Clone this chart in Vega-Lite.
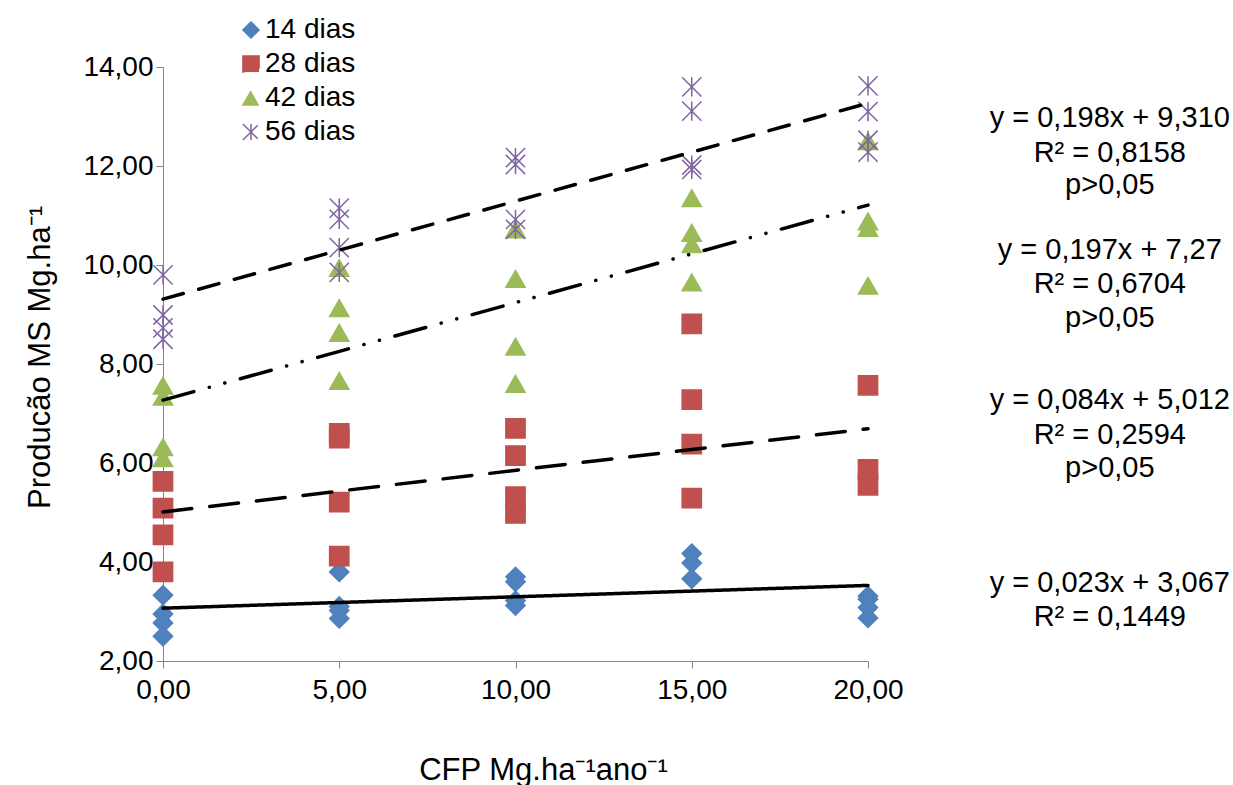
{
  "$schema": "https://vega.github.io/schema/vega-lite/v6.json",
  "autosize": {"type": "none"},
  "padding": {"left": 163, "top": 67, "right": 365, "bottom": 124},
  "width": 705,
  "height": 594,
  "background": "white",
  "config": {
    "view": {"stroke": null},
    "font": "Liberation Sans",
    "axis": {
      "grid": false,
      "domainColor": "#868686",
      "tickColor": "#868686",
      "domainWidth": 1,
      "tickWidth": 1,
      "labelColor": "black",
      "labelFont": "Liberation Sans",
      "labelFontSize": 28,
      "labelFlush": false,
      "titleFont": "Liberation Sans",
      "titleFontSize": 31,
      "titleFontWeight": "normal",
      "titleColor": "black"
    }
  },
  "datasets": {
    "pontos": [
      {"serie": "14 dias", "cfp": 0, "ms": 3.33},
      {"serie": "14 dias", "cfp": 0, "ms": 2.95},
      {"serie": "14 dias", "cfp": 0, "ms": 2.77},
      {"serie": "14 dias", "cfp": 0, "ms": 2.50},
      {"serie": "14 dias", "cfp": 5, "ms": 3.80},
      {"serie": "14 dias", "cfp": 5, "ms": 3.10},
      {"serie": "14 dias", "cfp": 5, "ms": 3.02},
      {"serie": "14 dias", "cfp": 5, "ms": 2.86},
      {"serie": "14 dias", "cfp": 10, "ms": 3.70},
      {"serie": "14 dias", "cfp": 10, "ms": 3.60},
      {"serie": "14 dias", "cfp": 10, "ms": 3.22},
      {"serie": "14 dias", "cfp": 10, "ms": 3.12},
      {"serie": "14 dias", "cfp": 15, "ms": 4.17},
      {"serie": "14 dias", "cfp": 15, "ms": 3.98},
      {"serie": "14 dias", "cfp": 15, "ms": 3.66},
      {"serie": "14 dias", "cfp": 20, "ms": 3.31},
      {"serie": "14 dias", "cfp": 20, "ms": 3.25},
      {"serie": "14 dias", "cfp": 20, "ms": 3.08},
      {"serie": "14 dias", "cfp": 20, "ms": 2.87},
      {"serie": "28 dias", "cfp": 0, "ms": 5.63},
      {"serie": "28 dias", "cfp": 0, "ms": 5.09},
      {"serie": "28 dias", "cfp": 0, "ms": 4.55},
      {"serie": "28 dias", "cfp": 0, "ms": 3.80},
      {"serie": "28 dias", "cfp": 5, "ms": 6.60},
      {"serie": "28 dias", "cfp": 5, "ms": 6.50},
      {"serie": "28 dias", "cfp": 5, "ms": 5.21},
      {"serie": "28 dias", "cfp": 5, "ms": 4.12},
      {"serie": "28 dias", "cfp": 10, "ms": 6.70},
      {"serie": "28 dias", "cfp": 10, "ms": 6.15},
      {"serie": "28 dias", "cfp": 10, "ms": 5.32},
      {"serie": "28 dias", "cfp": 10, "ms": 4.98},
      {"serie": "28 dias", "cfp": 15, "ms": 8.81},
      {"serie": "28 dias", "cfp": 15, "ms": 7.28},
      {"serie": "28 dias", "cfp": 15, "ms": 6.38},
      {"serie": "28 dias", "cfp": 15, "ms": 5.29},
      {"serie": "28 dias", "cfp": 20, "ms": 7.57},
      {"serie": "28 dias", "cfp": 20, "ms": 5.87},
      {"serie": "28 dias", "cfp": 20, "ms": 5.55},
      {"serie": "42 dias", "cfp": 0, "ms": 7.56},
      {"serie": "42 dias", "cfp": 0, "ms": 7.34},
      {"serie": "42 dias", "cfp": 0, "ms": 6.32},
      {"serie": "42 dias", "cfp": 0, "ms": 6.10},
      {"serie": "42 dias", "cfp": 5, "ms": 9.94},
      {"serie": "42 dias", "cfp": 5, "ms": 9.13},
      {"serie": "42 dias", "cfp": 5, "ms": 8.63},
      {"serie": "42 dias", "cfp": 5, "ms": 7.66},
      {"serie": "42 dias", "cfp": 10, "ms": 10.72},
      {"serie": "42 dias", "cfp": 10, "ms": 9.72},
      {"serie": "42 dias", "cfp": 10, "ms": 8.35},
      {"serie": "42 dias", "cfp": 10, "ms": 7.60},
      {"serie": "42 dias", "cfp": 15, "ms": 11.35},
      {"serie": "42 dias", "cfp": 15, "ms": 10.65},
      {"serie": "42 dias", "cfp": 15, "ms": 10.42},
      {"serie": "42 dias", "cfp": 15, "ms": 9.65},
      {"serie": "42 dias", "cfp": 20, "ms": 12.50},
      {"serie": "42 dias", "cfp": 20, "ms": 10.88},
      {"serie": "42 dias", "cfp": 20, "ms": 10.75},
      {"serie": "42 dias", "cfp": 20, "ms": 9.58},
      {"serie": "56 dias", "cfp": 0, "ms": 9.80},
      {"serie": "56 dias", "cfp": 0, "ms": 8.99},
      {"serie": "56 dias", "cfp": 0, "ms": 8.73},
      {"serie": "56 dias", "cfp": 0, "ms": 8.50},
      {"serie": "56 dias", "cfp": 5, "ms": 11.15},
      {"serie": "56 dias", "cfp": 5, "ms": 10.92},
      {"serie": "56 dias", "cfp": 5, "ms": 10.35},
      {"serie": "56 dias", "cfp": 5, "ms": 9.85},
      {"serie": "56 dias", "cfp": 10, "ms": 12.17},
      {"serie": "56 dias", "cfp": 10, "ms": 12.03},
      {"serie": "56 dias", "cfp": 10, "ms": 10.92},
      {"serie": "56 dias", "cfp": 10, "ms": 10.72},
      {"serie": "56 dias", "cfp": 15, "ms": 13.60},
      {"serie": "56 dias", "cfp": 15, "ms": 13.11},
      {"serie": "56 dias", "cfp": 15, "ms": 12.02},
      {"serie": "56 dias", "cfp": 15, "ms": 11.93},
      {"serie": "56 dias", "cfp": 20, "ms": 13.62},
      {"serie": "56 dias", "cfp": 20, "ms": 13.10},
      {"serie": "56 dias", "cfp": 20, "ms": 12.52},
      {"serie": "56 dias", "cfp": 20, "ms": 12.28}
    ],
    "tendencias": [
      {"serie": "14 dias", "cfp": 0, "ms": 3.067},
      {"serie": "14 dias", "cfp": 20, "ms": 3.527},
      {"serie": "28 dias", "cfp": 0, "ms": 5.012},
      {"serie": "28 dias", "cfp": 20, "ms": 6.692},
      {"serie": "42 dias", "cfp": 0, "ms": 7.27},
      {"serie": "42 dias", "cfp": 20, "ms": 11.21},
      {"serie": "56 dias", "cfp": 0, "ms": 9.31},
      {"serie": "56 dias", "cfp": 20, "ms": 13.27}
    ],
    "anotacoes": [
      {"texto": "y = 0,198x + 9,310", "nivel": 12.97},
      {"texto": "R² = 0,8158", "nivel": 12.27},
      {"texto": "p>0,05", "nivel": 11.61},
      {"texto": "y = 0,197x + 7,27", "nivel": 10.30},
      {"texto": "R² = 0,6704", "nivel": 9.62},
      {"texto": "p>0,05", "nivel": 8.93},
      {"texto": "y = 0,084x + 5,012", "nivel": 7.27},
      {"texto": "R² = 0,2594", "nivel": 6.57},
      {"texto": "p>0,05", "nivel": 5.90},
      {"texto": "y = 0,023x + 3,067", "nivel": 3.58},
      {"texto": "R² = 0,1449", "nivel": 2.89}
    ]
  },
  "layer": [
    {
      "data": {"name": "pontos"},
      "mark": {"type": "point", "filled": true, "opacity": 1, "strokeWidth": 1.5, "clip": false},
      "encoding": {
        "x": {
          "field": "cfp", "type": "quantitative",
          "scale": {"domain": [0, 20], "nice": false, "zero": false},
          "axis": {
            "values": [0, 5, 10, 15, 20],
            "labelExpr": "replace(format(datum.value, '.2f'), '.', ',')",
            "tickSize": 7,
            "labelPadding": 8,
            "title": "CFP Mg.ha⁻¹ano⁻¹",
            "titleX": 380,
            "titleY": 109,
            "titleAlign": "center",
            "titleBaseline": "middle"
          }
        },
        "y": {
          "field": "ms", "type": "quantitative",
          "scale": {"domain": [2, 14], "nice": false, "zero": false},
          "axis": {
            "values": [2, 4, 6, 8, 10, 12, 14],
            "labelExpr": "replace(format(datum.value, '.2f'), '.', ',')",
            "tickSize": 7,
            "labelPadding": 3,
            "title": "Producão MS Mg.ha⁻¹",
            "titleX": -123,
            "titleY": 290,
            "titleAngle": -90,
            "titleAlign": "center",
            "titleBaseline": "middle"
          }
        },
        "fill": {
          "field": "serie", "type": "nominal",
          "scale": {"domain": ["14 dias", "28 dias", "42 dias", "56 dias"], "range": ["#4F81BD", "#C0504D", "#9BBB59", "#8064A2"]},
          "legend": {
            "title": null, "orient": "none", "legendX": 74, "legendY": -51,
            "labelFontSize": 28, "labelFont": "Liberation Sans", "labelColor": "black",
            "symbolSize": 260, "symbolStrokeWidth": 1.5, "rowPadding": 6, "labelOffset": 0, "padding": 0
          }
        },
        "stroke": {
          "field": "serie", "type": "nominal",
          "scale": {"domain": ["14 dias", "28 dias", "42 dias", "56 dias"], "range": ["#4F81BD", "#C0504D", "#9BBB59", "#8064A2"]},
          "legend": {
            "title": null, "orient": "none", "legendX": 74, "legendY": -51,
            "labelFontSize": 28, "labelFont": "Liberation Sans", "labelColor": "black",
            "symbolSize": 260, "symbolStrokeWidth": 1.5, "rowPadding": 6, "labelOffset": 0, "padding": 0
          }
        },
        "shape": {
          "field": "serie", "type": "nominal",
          "scale": {"domain": ["14 dias", "28 dias", "42 dias", "56 dias"], "range": ["diamond", "square", "triangle-up", "M-1,-1L1,1M-1,1L1,-1M0,-1L0,1"]},
          "legend": {
            "title": null, "orient": "none", "legendX": 74, "legendY": -51,
            "labelFontSize": 28, "labelFont": "Liberation Sans", "labelColor": "black",
            "symbolSize": 260, "symbolStrokeWidth": 1.5, "rowPadding": 6, "labelOffset": 0, "padding": 0
          }
        },
        "size": {"value": 370}
      }
    },
    {
      "data": {"name": "tendencias"},
      "mark": {"type": "line", "color": "black", "strokeWidth": 3.5, "strokeCap": "round", "clip": false},
      "encoding": {
        "x": {"field": "cfp", "type": "quantitative"},
        "y": {"field": "ms", "type": "quantitative"},
        "strokeDash": {
          "field": "serie", "type": "nominal",
          "scale": {"domain": ["14 dias", "28 dias", "42 dias", "56 dias"], "range": [[1, 0], [29, 18], [32, 16, 0.1, 16, 0.1, 16], [21, 16]]},
          "legend": null
        }
      }
    },
    {
      "data": {"name": "anotacoes"},
      "mark": {"type": "text", "align": "center", "baseline": "middle", "fontSize": 29, "font": "Liberation Sans", "color": "black", "clip": false},
      "encoding": {
        "x": {"datum": 26.86, "type": "quantitative"},
        "y": {"field": "nivel", "type": "quantitative"},
        "text": {"field": "texto", "type": "nominal"}
      }
    }
  ]
}
